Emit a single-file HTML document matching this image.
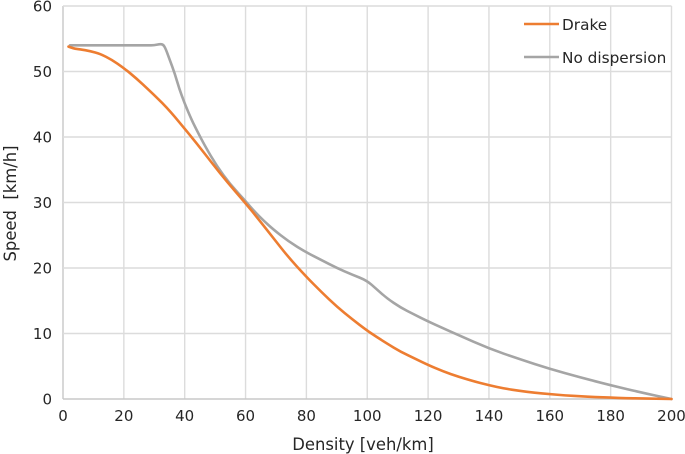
<!DOCTYPE html>
<html>
<head>
<meta charset="utf-8">
<style>
html,body{margin:0;padding:0;background:#fff;width:685px;height:454px;overflow:hidden}
svg{display:block}
text{font-family:"DejaVu Sans",sans-serif;fill:#262626}
.tick{font-size:15px}
.legend{font-size:15.3px}
.title{font-size:16.4px}
</style>
</head>
<body>
<svg id="chart" width="685" height="454" viewBox="0 0 685 454" xmlns="http://www.w3.org/2000/svg"></svg>
<script>
const xTicks = [0,20,40,60,80,100,120,140,160,180,200];
const yTicks = [0,10,20,30,40,50,60];
const drakeDensity = [1.8,3.5,5.6,9,12.2,16,19.8,24,28.6,34,39.4,44,49,54,59.8,64,69.1,74,79.9,85,90,95,99.8,103,106.4,111,116.2,120,125,130,135,140,145,150,155,160,165,170,175,180,185,190,195,200];
const drakeSpeed = [53.8,53.5,53.4,53.1,52.7,51.8,50.6,49,47,44.6,41.6,39,36,33.1,30,27.6,24.6,21.7,18.7,16.3,14.1,12.2,10.5,9.5,8.5,7.2,6.05,5.2,4.2,3.4,2.7,2.1,1.6,1.25,0.95,0.75,0.55,0.42,0.3,0.2,0.13,0.08,0.04,0];
const noDispDensity = [2.3,5,10,15,20,25,28,30,31.9,33,33.8,35,36.8,38.2,39.9,42.3,44,46.7,50.5,54.9,60,63,66,69.1,74,79.9,85,90,95,99.8,103,106.4,111,115.2,120,124,130,140,150,160,170,180,190,200];
const noDispSpeed = [54,54,54,54,54,54,54,54,54.2,54.1,53.4,51.9,49.6,47.4,45.2,42.6,41,38.6,35.6,32.8,30.2,28.6,27.2,25.9,24.1,22.4,21.2,20,19,18.1,16.8,15.4,13.95,12.95,11.85,11,9.75,7.7,6.1,4.6,3.3,2.1,1,0];
const seriesNames = ["Drake","No dispersion"];

const svg = document.getElementById('chart');
const NS = 'http://www.w3.org/2000/svg';
const xPos = v => 63 + v * (671.5 - 63) / 200;
const yPos = v => 399 - v * (399 - 6) / 60;

function add(tag, attrs, parent, text){
  const el = document.createElementNS(NS, tag);
  for (const k in attrs) el.setAttribute(k, attrs[k]);
  if (text !== undefined) el.textContent = text;
  (parent || svg).appendChild(el);
  return el;
}

const bg = add('rect', {x:0, y:0, width:685, height:454, fill:'#ffffff'});



xTicks.forEach(t => {
  const g = add('line', {x1:xPos(t), x2:xPos(t), y1:yPos(60), y2:yPos(0), stroke: t === 0 ? '#c8c8c8' : '#dcdcdc', 'stroke-width':1.4});
  
  
  const l = add('text', {x:xPos(t), y:421, 'text-anchor':'middle', 'class':'tick'}, svg, String(t));
  
  
});
yTicks.forEach(t => {
  const g = add('line', {x1:xPos(0), x2:xPos(200), y1:yPos(t), y2:yPos(t), stroke: t === 0 ? '#c8c8c8' : '#dcdcdc', 'stroke-width':1.4});
  
  
  const l = add('text', {x:52, y:yPos(t) + 5.5, 'text-anchor':'end', 'class':'tick'}, svg, String(t));
  
  
});

function linePath(xs, ys){
  const px = xs.map(xPos);
  const py = ys.map(yPos);
  let d = 'M' + px[0].toFixed(2) + ' ' + py[0].toFixed(2);
  for (let i = 1; i < px.length - 1; i++) {
    const mx = (px[i] + px[i + 1]) / 2;
    const my = (py[i] + py[i + 1]) / 2;
    d += ' Q' + px[i].toFixed(2) + ' ' + py[i].toFixed(2) + ' ' + mx.toFixed(2) + ' ' + my.toFixed(2);
  }
  const n = px.length - 1;
  d += ' L' + px[n].toFixed(2) + ' ' + py[n].toFixed(2);
  return d;
}

const greyLine = add('path', {d:linePath(noDispDensity, noDispSpeed), fill:'none', stroke:'#a5a5a5', 'stroke-width':2.6, 'stroke-linejoin':'round', 'stroke-linecap':'round'});


const orangeLine = add('path', {d:linePath(drakeDensity, drakeSpeed), fill:'none', stroke:'#ed7d31', 'stroke-width':2.6, 'stroke-linejoin':'round', 'stroke-linecap':'round'});



const k1 = add('line', {x1:524, x2:559, y1:24, y2:24, stroke:'#ed7d31', 'stroke-width':2.6});


const t1 = add('text', {x:562, y:30, 'class':'legend'}, svg, seriesNames[0]);


const k2 = add('line', {x1:524, x2:559, y1:57, y2:57, stroke:'#a5a5a5', 'stroke-width':2.6});


const t2 = add('text', {x:562, y:63, 'class':'legend'}, svg, seriesNames[1]);



const xTitle = add('text', {x:363, y:450, 'text-anchor':'middle', 'class':'title'}, svg, 'Density [veh/km]');


const yTitle = add('text', {x:0, y:0, 'text-anchor':'middle', 'class':'title', transform:'translate(16 203.5) rotate(-90)'}, svg, 'Speed \u00A0[km/h]');


</script>
</body>
</html>
